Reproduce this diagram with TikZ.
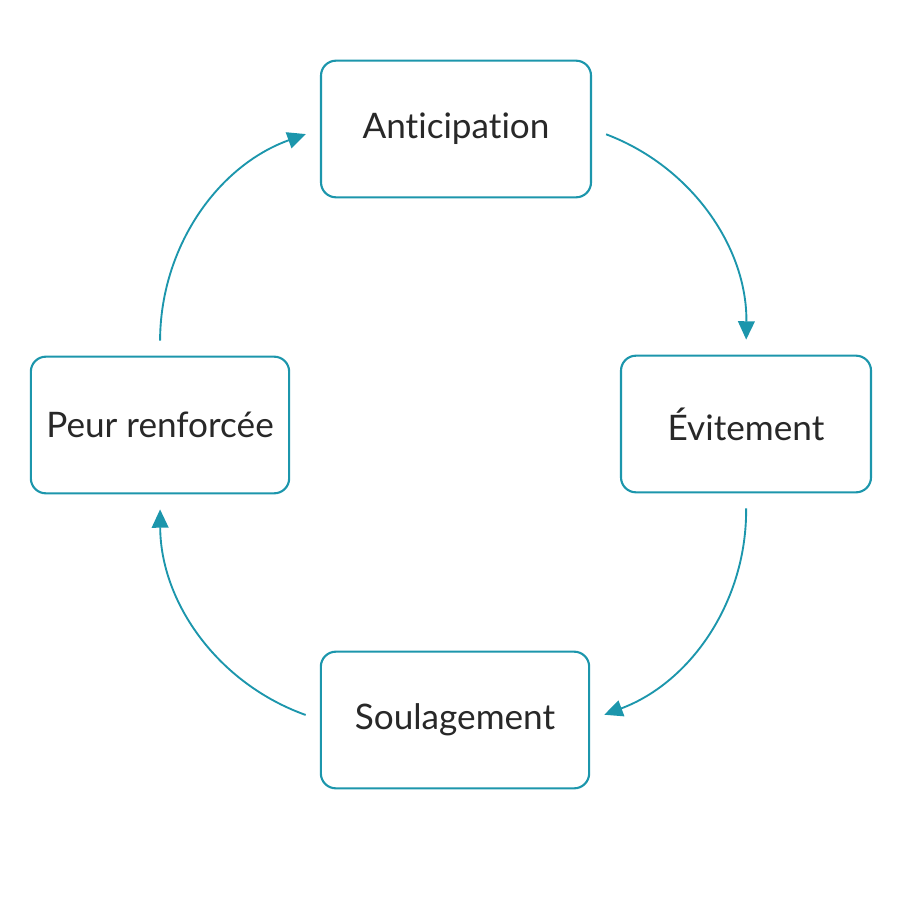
\documentclass[tikz,border=0pt]{standalone}
\usepackage{fontspec}
\setmainfont{Lato}[Ligatures={NoCommon,NoDiscretionary,NoRare}]
\usetikzlibrary{arrows.meta}
\definecolor{cycleteal}{RGB}{28,150,172}
\definecolor{cycletext}{RGB}{40,40,40}
\tikzset{
  stage/.style={draw=cycleteal, line width=1.8pt, rounded corners=0.45cm, fill=white,
    text=cycletext, font=\fontsize{30}{36}\selectfont, minimum height=4.1cm, inner sep=0pt},
  arr/.style={draw=cycleteal, line width=1.6pt, -{Triangle[length=0.55cm,width=0.5cm]},
    shorten <=0.45cm, shorten >=0.45cm}
}
\begin{document}
\begin{tikzpicture}[x=0.03cm,y=-0.03cm]
  \useasboundingbox (0,0) rectangle (900,900);
  \node[stage, minimum width=8.1cm] (ant) at (456,129) {Anticipation};
  \node[stage, minimum width=7.5cm] (evi) at (746,424) {Évitement};
  \node[stage, minimum width=8.05cm] (soul) at (455,720) {Soulagement};
  \node[stage, minimum width=7.75cm] (peur) at (160,425) {Peur renforcée};

  \draw[arr] (ant.east) to[bend left=35] (evi.north);
  \draw[arr] (evi.south) to[bend left=35] (soul.east);
  \draw[arr] (soul.west) to[bend left=35] (peur.south);
  \draw[arr] (peur.north) to[bend left=35] (ant.west);
\end{tikzpicture}
\end{document}
